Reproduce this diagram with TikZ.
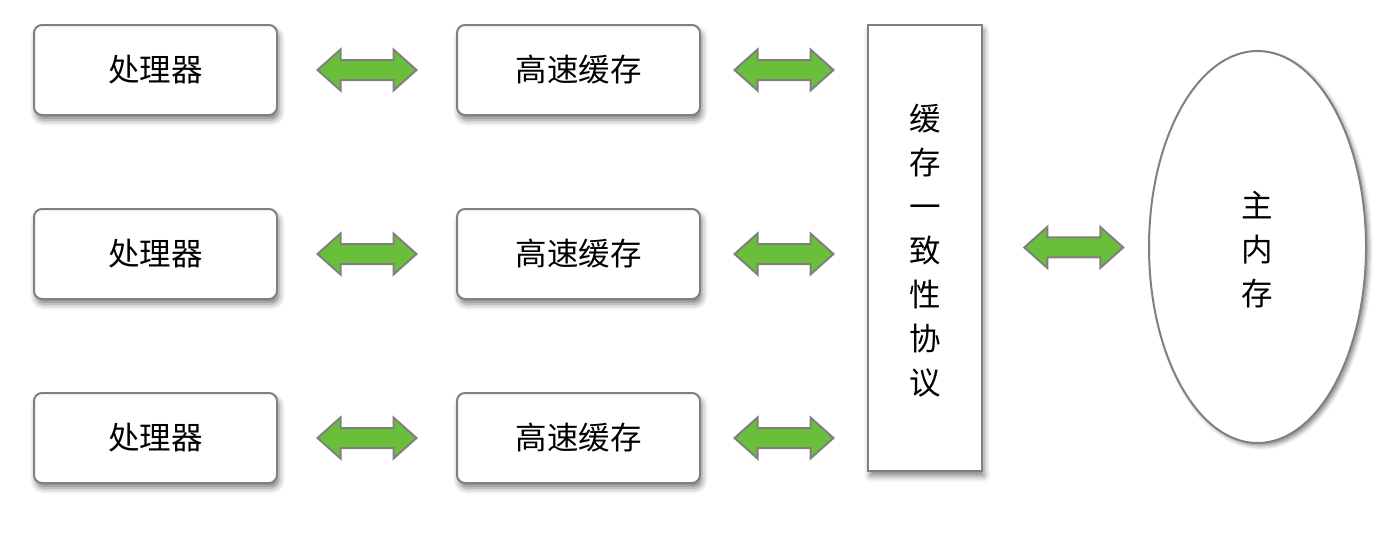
\documentclass[tikz,border=0pt]{standalone}
\usepackage{fontspec}
\setmainfont{Noto Sans CJK SC}
\usetikzlibrary{calc,shapes.geometric,shadows.blur}
\definecolor{edgegray}{HTML}{808080}
\definecolor{arrowgreen}{HTML}{6ABF3A}
\tikzset{
  box/.style={draw=edgegray, line width=2pt, fill=white, rounded corners=8pt,
    minimum width=243pt, minimum height=90pt, inner sep=0pt,
    font=\fontsize{31.5}{36}\selectfont,
    blur shadow={shadow xshift=2pt, shadow yshift=-5pt, shadow blur radius=6pt, shadow opacity=50}},
  bigbox/.style={draw=edgegray, line width=2pt, fill=white,
    minimum width=114pt, minimum height=446pt, inner sep=0pt,
    blur shadow={shadow xshift=2pt, shadow yshift=-5pt, shadow blur radius=6pt, shadow opacity=50}},
  memshape/.style={ellipse, draw=edgegray, line width=2pt, fill=white,
    minimum width=217pt, minimum height=392pt, inner sep=0pt,
    blur shadow={shadow xshift=3pt, shadow yshift=-3pt, shadow blur radius=4pt, shadow opacity=45}},
  vtext/.style={align=center, font=\fontsize{31.5}{44}\selectfont},
  dblarrow/.style={draw=edgegray, line width=2pt, fill=arrowgreen, line join=miter}
}
\newcommand{\dblarrowat}[1]{%
  \draw[dblarrow] ($(#1)+(-49.5,0)$) -- ($(#1)+(-26.5,-20.5)$) -- ($(#1)+(-26.5,-10)$)
    -- ($(#1)+(26.5,-10)$) -- ($(#1)+(26.5,-20.5)$) -- ($(#1)+(49.5,0)$)
    -- ($(#1)+(26.5,20.5)$) -- ($(#1)+(26.5,10)$) -- ($(#1)+(-26.5,10)$)
    -- ($(#1)+(-26.5,20.5)$) -- cycle;}
\begin{document}
\begin{tikzpicture}[x=1pt,y=-1pt]
\useasboundingbox (0,0) rectangle (1394,536);
% processors
\node[box] (p1) at (155.5,70) {处理器};
\node[box] (p2) at (155.5,254) {处理器};
\node[box] (p3) at (155.5,438) {处理器};
% caches
\node[box] (c1) at (578.5,70) {高速缓存};
\node[box] (c2) at (578.5,254) {高速缓存};
\node[box] (c3) at (578.5,438) {高速缓存};
% coherence protocol
\node[bigbox] (coh) at (925,248) {};
\node[vtext] (cohtext) at (925,250.5) {缓\\存\\一\\致\\性\\协\\议};
% main memory
\node[memshape] (mem) at (1257.5,247) {};
\node[vtext] (memtext) at (1257.5,250) {主\\内\\存};
% arrows
\path (p1.east) -- (c1.west) coordinate[midway] (a1);
\path (p2.east) -- (c2.west) coordinate[midway] (a2);
\path (p3.east) -- (c3.west) coordinate[midway] (a3);
\path (c1.east) -- (c1.east -| coh.west) coordinate[midway] (b1);
\path (c2.east) -- (c2.east -| coh.west) coordinate[midway] (b2);
\path (c3.east) -- (c3.east -| coh.west) coordinate[midway] (b3);
\path (coh.east) -- (mem.west) coordinate[pos=0.55] (d1);
\dblarrowat{a1}
\dblarrowat{a2}
\dblarrowat{a3}
\dblarrowat{b1}
\dblarrowat{b2}
\dblarrowat{b3}
\dblarrowat{d1}
\end{tikzpicture}
\end{document}
